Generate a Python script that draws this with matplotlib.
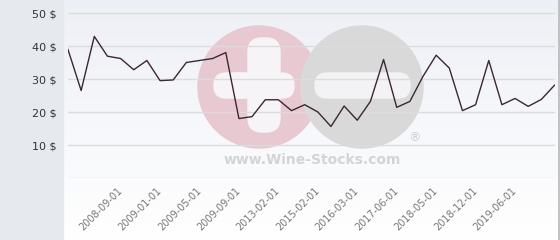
import numpy as np
import matplotlib.pyplot as plt
from matplotlib.patches import Rectangle, Circle, FancyBboxPatch

# prix (en $)
prices = [39.0, 26.6, 43.0, 37.0, 36.3, 32.9, 35.7, 29.6, 29.8, 35.1,
          35.7, 36.3, 38.1, 18.1, 18.7, 23.8, 23.8, 20.5, 22.3, 20.1,
          15.7, 21.9, 17.6, 23.3, 36.0, 21.5, 23.3, 30.9, 37.3, 33.4,
          20.5, 22.3, 35.7, 22.3, 24.2, 21.8, 23.9, 28.2]
tick_labels = ['2008-09-01', '2009-01-01', '2009-05-01', '2009-09-01', '2013-02-01',
               '2015-02-01', '2016-03-01', '2017-06-01', '2018-05-01', '2018-12-01',
               '2019-06-01']
y_ticks = [0, 10, 20, 30, 40, 50]

fig = plt.figure(figsize=(5.6, 2.4), dpi=100)

# fond + filigrane, en pixels
bg = fig.add_axes([0, 0, 1, 1], zorder=0)
bg.set_xlim(0, 560)
bg.set_ylim(240, 0)
bg.axis('off')
grad = np.linspace(0, 1, 100).reshape(-1, 1)
top = np.array([0.93, 0.94, 0.965])
bot = np.array([1.0, 1.0, 1.0])
img = top + (bot - top) * grad[:, :, None]
bg.imshow(img, extent=[63, 560, 240, 0], aspect='auto', zorder=0)
bg.add_patch(Rectangle((0, 0), 63, 240, color='#e6eaee', zorder=1))
bg.plot([559, 559], [0, 240], color='#b8b8b8', lw=1.2, zorder=2)

# logo (filigrane)
bg.add_patch(Circle((259, 87), 61, color='#e8c9d1', zorder=2))
bg.add_patch(Circle((362, 87), 61, color='#d9d9da', zorder=3))
bg.add_patch(FancyBboxPatch((226, 73), 68, 25, boxstyle='round,pad=0,rounding_size=12',
                            color='#f6f4f7', zorder=4))
bg.add_patch(FancyBboxPatch((248, 38), 32, 94, boxstyle='round,pad=0,rounding_size=14',
                            color='#f6f4f7', zorder=4))
bg.add_patch(FancyBboxPatch((214, 73), 40, 25, boxstyle='round,pad=0,rounding_size=12',
                            color='#f6f4f7', zorder=4))
bg.add_patch(FancyBboxPatch((315, 73), 95, 25, boxstyle='round,pad=0,rounding_size=12',
                            color='#f3f3f5', zorder=4))
bg.text(312, 160, 'www.Wine-Stocks.com', fontsize=10, fontweight='bold',
        color='#d4d4d6', ha='center', va='center', zorder=4)
bg.text(414, 138, '®', fontsize=9, color='#cfcfd1', ha='center', va='center', zorder=4)

# graphique
ax = fig.add_axes([68 / 560, (240 - 178.3) / 240, (554.5 - 68) / 560, 178.3 / 240], zorder=1)
ax.patch.set_visible(False)
x = np.arange(len(prices))
ax.plot(x, prices, color='#3b2733', lw=1)
ax.set_xlim(0, len(prices) - 1)
ax.set_ylim(0, 178.3 / 3.3)
for v in y_ticks:
    ax.axhline(v, color='#dcdcdc', lw=1, zorder=0)
ax.set_yticks(y_ticks[1:])
ax.set_yticklabels([f'{v} $' for v in y_ticks[1:]], fontsize=8, color='#333333')
ax.set_xticks(range(4, 4 + 3 * len(tick_labels), 3))
ax.set_xticklabels(tick_labels, rotation=45, ha='right', va='center',
                   rotation_mode='anchor', fontsize=7, color='#777777')
ax.tick_params(length=0)
ax.tick_params(axis='y', pad=8)
ax.tick_params(axis='x', pad=8)
for s in ax.spines.values():
    s.set_visible(False)

plt.savefig('out.png', dpi=100)
